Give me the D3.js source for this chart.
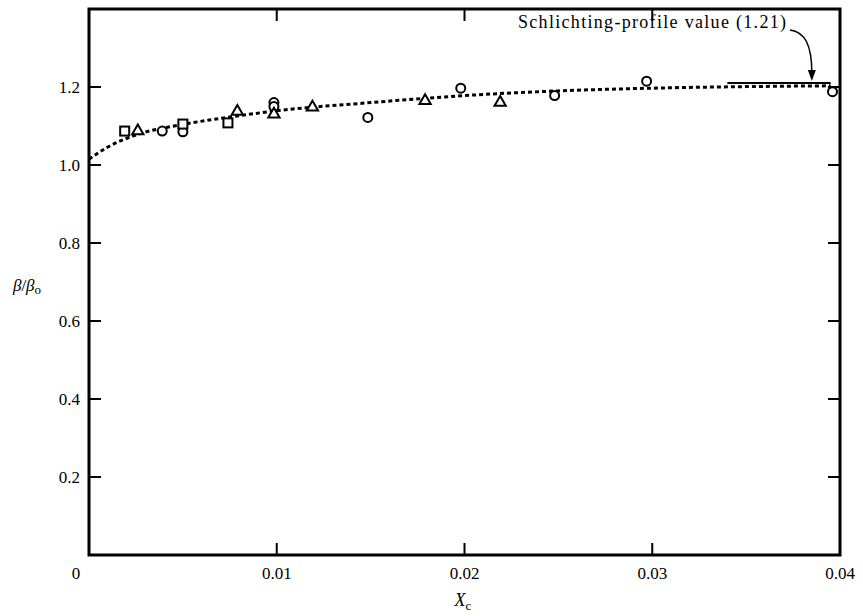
<!DOCTYPE html>
<html>
<head>
<meta charset="utf-8">
<script src="https://cdn.jsdelivr.net/npm/d3@7"></script>
<style>
  body { margin: 0; background: #fff; }
  text { font-family: "Liberation Serif", "DejaVu Serif", serif; fill: #000; }
</style>
</head>
<body>
<svg id="chart"></svg>
<script>
// fitted curve (dotted)
const curveX = [0, 0.001, 0.0025, 0.005, 0.0075, 0.01, 0.015, 0.02, 0.025, 0.03, 0.035, 0.0395];
const curveY = [1.015, 1.046, 1.077, 1.104, 1.123, 1.139, 1.16, 1.178, 1.19, 1.197, 1.201, 1.203];

// measured points, by symbol
const circles = [[0.0039, 1.087], [0.005, 1.085], [0.00985, 1.16], [0.00985, 1.15], [0.01485, 1.122],
                 [0.0198, 1.197], [0.0248, 1.178], [0.0297, 1.215], [0.0396, 1.188]];
const triangles = [[0.0026, 1.087], [0.0079, 1.137], [0.00985, 1.13], [0.0119, 1.148],
                   [0.0179, 1.165], [0.0219, 1.16]];
const squares = [[0.0019, 1.087], [0.005, 1.105], [0.0074, 1.108]];

const schlichting = 1.21;
const xTicks = [0.01, 0.02, 0.03, 0.04];
const yTicks = [0.2, 0.4, 0.6, 0.8, 1.0, 1.2];

const W = 863, H = 616;
const svg = d3.select("#chart").attr("width", W).attr("height", H);

const x = d3.scaleLinear([0, 0.04], [89, 840]);
const y = d3.scaleLinear([0, 1.4], [555, 9]);

// tick marks, inward on all four sides
const g = svg.append("g").attr("stroke", "#000").attr("stroke-width", 2);
xTicks.slice(0, 3).forEach(t => {
  g.append("line").attr("x1", x(t)).attr("x2", x(t)).attr("y1", y(1.4)).attr("y2", y(1.4) + 12);
  g.append("line").attr("x1", x(t)).attr("x2", x(t)).attr("y1", y(0)).attr("y2", y(0) - 12);
});
yTicks.forEach(t => {
  g.append("line").attr("x1", x(0)).attr("x2", x(0) + 12).attr("y1", y(t)).attr("y2", y(t));
  g.append("line").attr("x1", x(0.04)).attr("x2", x(0.04) - 12).attr("y1", y(t)).attr("y2", y(t));
});

// frame
svg.append("rect")
  .attr("x", x(0)).attr("y", y(1.4))
  .attr("width", x(0.04) - x(0)).attr("height", y(0) - y(1.4))
  .attr("fill", "none").attr("stroke", "#000").attr("stroke-width", 3);

// tick labels
svg.append("g").selectAll("text").data(xTicks).join("text")
  .attr("x", d => x(d)).attr("y", 579)
  .attr("text-anchor", "middle").attr("font-size", 17)
  .text(d => d.toString());
svg.append("text").attr("x", 76).attr("y", 579).attr("text-anchor", "middle")
  .attr("font-size", 17).text("0");
svg.append("g").selectAll("text").data(yTicks).join("text")
  .attr("x", 80).attr("y", d => y(d) + 6)
  .attr("text-anchor", "end").attr("font-size", 17)
  .text(d => d.toFixed(1));

// axis titles
const yl = svg.append("text").attr("x", 27).attr("y", 291)
  .attr("text-anchor", "middle").attr("font-size", 17);
yl.append("tspan").attr("font-style", "italic").text("β");
yl.append("tspan").text("/");
yl.append("tspan").attr("font-style", "italic").text("β");
yl.append("tspan").attr("font-size", 13).attr("dy", 3).text("o");

const xl = svg.append("text").attr("x", 463).attr("y", 606)
  .attr("text-anchor", "middle").attr("font-size", 18);
xl.append("tspan").attr("font-style", "italic").text("X");
xl.append("tspan").attr("font-size", 13).attr("dy", 4).text("c");

// Schlichting value line
svg.append("line")
  .attr("x1", x(0.034)).attr("x2", x(0.0395))
  .attr("y1", y(schlichting)).attr("y2", y(schlichting))
  .attr("stroke", "#000").attr("stroke-width", 2);

// dotted fitted curve
const line = d3.line().x(d => x(d[0])).y(d => y(d[1])).curve(d3.curveMonotoneX);
svg.append("path")
  .datum(d3.zip(curveX, curveY))
  .attr("d", line)
  .attr("fill", "none").attr("stroke", "#000").attr("stroke-width", 3)
  .attr("stroke-dasharray", "4,3");

// symbols
const pts = svg.append("g").attr("fill", "#fff").attr("stroke", "#000").attr("stroke-width", 2);
pts.selectAll("circle").data(circles).join("circle")
  .attr("cx", d => x(d[0])).attr("cy", d => y(d[1])).attr("r", 4.5);
const tri = d3.symbol(d3.symbolTriangle, 55);
pts.selectAll("path.tri").data(triangles).join("path").attr("class", "tri")
  .attr("transform", d => `translate(${x(d[0])},${y(d[1])})`).attr("d", tri);
pts.selectAll("rect").data(squares).join("rect")
  .attr("x", d => x(d[0]) - 4.5).attr("y", d => y(d[1]) - 4.5)
  .attr("width", 9).attr("height", 9);

// annotation
svg.append("text").attr("x", 518).attr("y", 28)
  .attr("font-size", 18).attr("textLength", 268).attr("lengthAdjust", "spacing")
  .text("Schlichting-profile value (1.21)");
const tipX = x(0.0385), tipY = y(schlichting) - 2;
svg.append("path")
  .attr("d", `M790,30 C805,32 ${tipX},45 ${tipX},${tipY - 8}`)
  .attr("fill", "none").attr("stroke", "#000").attr("stroke-width", 1.5);
svg.append("path")
  .attr("d", `M${tipX - 4},${tipY - 11} L${tipX + 4},${tipY - 11} L${tipX},${tipY} Z`)
  .attr("fill", "#000");
</script>
</body>
</html>
